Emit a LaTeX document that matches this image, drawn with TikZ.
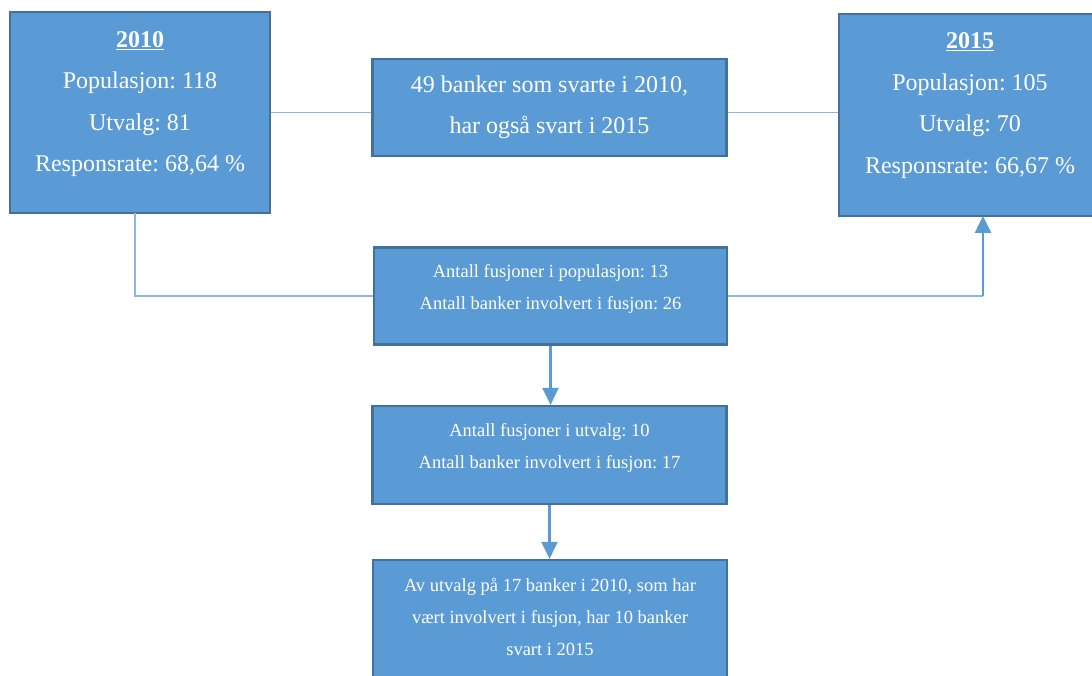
\documentclass[tikz,border=0pt]{standalone}
\usepackage{fontspec}
\setmainfont{Liberation Serif}
\usetikzlibrary{arrows.meta}
\frenchspacing
\definecolor{boxfill}{HTML}{5B9BD5}
\definecolor{boxline}{HTML}{41719C}
\definecolor{connline}{HTML}{8DB6E2}
\definecolor{arrline}{HTML}{5B9BD5}
\tikzset{
  box/.style={draw=boxline, fill=boxfill, line width=2.2pt, inner sep=0pt},
  bigtext/.style={text=white, align=center, font=\fontsize{24}{41.5}\selectfont},
  smalltext/.style={text=white, align=center, font=\fontsize{18.5}{32}\selectfont},
  conn/.style={draw=connline, line width=1.6pt},
  arr/.style={draw=arrline, line width=2.6pt, -{Triangle[width=16pt,length=17pt]}}
}
\begin{document}
\begin{tikzpicture}[x=1pt,y=-1pt]
\useasboundingbox (0,0) rectangle (1092,676);

% boxes
\node[box, minimum width=260pt, minimum height=201pt] (b2010) at (140,112.5) {};
\node[box, minimum width=262pt, minimum height=202pt] (b2015) at (970,115) {};
\node[box, minimum width=354pt, minimum height=97pt] (b49) at (549.5,107.5) {};
\node[box, minimum width=353pt, minimum height=97pt] (bfus) at (550.5,296) {};
\node[box, minimum width=354pt, minimum height=98pt] (butv) at (549.5,455) {};
\node[box, minimum width=354pt, minimum height=140pt] (bsvar) at (550,630) {};

% texts
\node[bigtext] (t2010) at (140,104) {\underline{\textbf{2010}}\\Populasjon: 118\\Utvalg: 81\\Responsrate: 68,64 \%};
\node[bigtext] (t2015) at (970,105.5) {\underline{\textbf{2015}}\\Populasjon: 105\\Utvalg: 70\\Responsrate: 66,67 \%};
\node[bigtext] (t49) at (549.5,107.5) {49 banker som svarte i 2010,\\har også svart i 2015};
\node[smalltext] (tfus) at (550.5,289) {Antall fusjoner i populasjon: 13\\Antall banker involvert i fusjon: 26};
\node[smalltext] (tutv) at (549.5,448) {Antall fusjoner i utvalg: 10\\Antall banker involvert i fusjon: 17};
\node[smalltext] (tsvar) at (550,617) {Av utvalg på 17 banker i 2010, som har\\vært involvert i fusjon, har 10 banker\\svart i 2015};

% connector anchors
\coordinate (lv) at (135,213);
\coordinate (rv) at (983,216);

% connectors
\draw[conn] (b2010.east) -- (b2010.east -| b49.west);
\draw[conn] (b2010.east -| b49.east) -- (b2010.east -| b2015.west);
\draw[conn] (lv) |- (bfus.west);
\draw[conn] (bfus.east) -- (bfus.east -| rv);
\draw[arr] (bfus.east -| rv) -- (rv);
\draw[arr] (bfus.south) -- (bfus.south |- butv.north);
\draw[arr] (butv.south) -- (butv.south |- bsvar.north);
\end{tikzpicture}
\end{document}
